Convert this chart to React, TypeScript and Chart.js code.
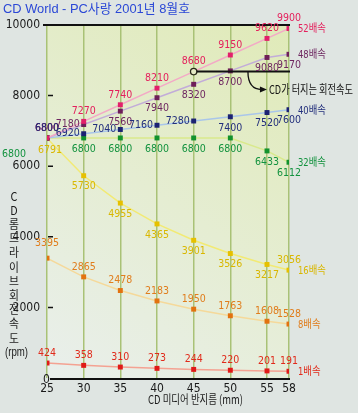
import React, { useEffect, useRef } from 'react';
import { Chart, registerables } from 'chart.js';

Chart.register(...registerables);

// ---- data ----
const radii = [25, 30, 35, 40, 45, 50, 55, 58];
const speed52 = [6800, 7270, 7740, 8210, 8680, 9150, 9620, 9900];
const speed48 = [6800, 7180, 7560, 7940, 8320, 8700, 9080, 9170];
const speed40 = [6800, 6920, 7040, 7160, 7280, 7400, 7520, 7600];
const speed32 = [6800, 6800, 6800, 6800, 6800, 6800, 6433, 6112];
const speed16 = [6791, 5730, 4955, 4365, 3901, 3526, 3217, 3056];
const speed8 = [3395, 2865, 2478, 2183, 1950, 1763, 1608, 1528];
const speed1 = [424, 358, 310, 273, 244, 220, 201, 191];
const seriesNames = ['52배속', '48배속', '40배속', '32배속', '16배속', '8배속', '1배속'];
const yTickValues = [0, 2000, 4000, 6000, 8000, 10000];
const burstRadius = 45; // radius where the "burst" marker is
const chartTitle = 'CD World - PC사랑 2001년 8월호';
const xTitle = 'CD 미디어 반지름 (mm)';
const yTitleChars = ['C', 'D', '롬', '드', '라', '이', '브', '회', '전', '속', '도'];
const yUnit = '(rpm)';
const burstText = 'CD가 터지는 회전속도';

// ---- styles ----
const NARROW = '"Liberation Sans Narrow", "DejaVu Sans Condensed", "Noto Sans CJK KR", sans-serif';
const SANS = '"Liberation Sans", "Noto Sans CJK KR", sans-serif';
const KR = '"Noto Sans CJK KR", "Liberation Sans", sans-serif';

const seriesStyle = [
  { line: '#f3a9c6', point: '#e2206a', label: '#e4205c' },
  { line: '#c2acd9', point: '#6e1f58', label: '#6e2660' },
  { line: '#a9c6ea', point: '#1c2272', label: '#232f7c' },
  { line: '#d9e98c', point: '#12922e', label: '#12923e' },
  { line: '#f2ea74', point: '#e6c000', label: '#d9b700' },
  { line: '#f5d99a', point: '#e27210', label: '#e07d1c' },
  { line: '#f4a292', point: '#e01a18', label: '#e02a1a' },
];

// label placement per point: up / down / left / upfar / farleft / downright
const placements = [
  ['up', 'up', 'up', 'up', 'up', 'up', 'up', 'up'],
  ['up', 'left', 'down', 'down', 'down', 'down', 'down', 'down'],
  ['up', 'left', 'left', 'left', 'left', 'down', 'down', 'down'],
  ['farleft', 'down', 'down', 'down', 'down', 'down', 'down', 'down'],
  ['downright', 'down', 'down', 'down', 'down', 'down', 'down', 'up'],
  ['upfar', 'up', 'up', 'up', 'up', 'up', 'up', 'up'],
  ['up', 'up', 'up', 'up', 'up', 'up', 'up', 'up'],
];

const allSeries = [speed52, speed48, speed40, speed32, speed16, speed8, speed1];

function drawScaled(ctx: CanvasRenderingContext2D, text: string, x: number, y: number, font: string, color: string, align: CanvasTextAlign, sx: number) {
  ctx.save();
  ctx.font = font;
  ctx.fillStyle = color;
  ctx.textBaseline = 'middle';
  ctx.textAlign = align;
  ctx.translate(x, y);
  ctx.scale(sx, 1);
  ctx.fillText(text, 0, 0);
  ctx.restore();
}

function drawFit(ctx: CanvasRenderingContext2D, text: string, x: number, y: number, font: string, color: string, width: number) {
  ctx.save();
  ctx.font = font;
  const w = ctx.measureText(text).width;
  ctx.restore();
  drawScaled(ctx, text, x, y, font, color, 'left', width / w);
}

const decorPlugin = {
  id: 'decor',
  beforeDraw(chart: any) {
    const { ctx, chartArea: a, width, height } = chart;
    ctx.save();
    ctx.fillStyle = '#dfe5e2';
    ctx.fillRect(0, 0, width, height);
    const g = ctx.createLinearGradient(a.right, a.top, a.left, a.bottom);
    g.addColorStop(0, '#e0eab8');
    g.addColorStop(0.5, '#e5edd2');
    g.addColorStop(1, '#e9efec');
    ctx.fillStyle = g;
    ctx.fillRect(a.left, a.top, a.right - a.left, a.bottom - a.top);
    ctx.restore();
  },
  beforeDatasetsDraw(chart: any) {
    const { ctx, chartArea: a } = chart;
    const y = chart.scales.y;
    ctx.save();
    ctx.strokeStyle = '#111';
    ctx.lineWidth = 2;
    ctx.beginPath();
    ctx.moveTo(a.left - 4, y.getPixelForValue(10000));
    ctx.lineTo(a.right + 1, y.getPixelForValue(10000));
    ctx.moveTo(a.left + 3, y.getPixelForValue(0) + 1);
    ctx.lineTo(a.right + 1, y.getPixelForValue(0) + 1);
    ctx.stroke();
    ctx.lineWidth = 1.5;
    ctx.beginPath();
    yTickValues.forEach((v) => {
      if (v === 0 || v === 10000) return;
      const py = y.getPixelForValue(v);
      ctx.moveTo(a.left + 1, py);
      ctx.lineTo(a.left + 6, py);
    });
    ctx.stroke();
    ctx.restore();
  },
  afterDatasetsDraw(chart: any) {
    const { ctx, chartArea: a } = chart;
    const xs = chart.scales.x;
    const ys = chart.scales.y;
    const valFont = `10.5px ${NARROW}`;

    // burst annotation
    const bi = radii.indexOf(burstRadius);
    const by = ys.getPixelForValue(speed52[bi]);
    const bx = xs.getPixelForValue(burstRadius);
    ctx.save();
    ctx.strokeStyle = '#111';
    ctx.lineWidth = 2;
    ctx.beginPath();
    ctx.moveTo(bx + 3, by);
    ctx.lineTo(xs.getPixelForValue(58) + 1, by);
    ctx.stroke();
    ctx.lineWidth = 1.3;
    const ax = xs.getPixelForValue(52.4);
    ctx.beginPath();
    ctx.moveTo(ax, by);
    ctx.quadraticCurveTo(ax, by + 18, ax + 14, by + 18);
    ctx.stroke();
    ctx.fillStyle = '#111';
    ctx.beginPath();
    ctx.moveTo(ax + 19, by + 18);
    ctx.lineTo(ax + 12, by + 15);
    ctx.lineTo(ax + 12, by + 21);
    ctx.closePath();
    ctx.fill();
    ctx.restore();
    drawFit(ctx, burstText, ax + 21, by + 18, `12px ${KR}`, '#111', 84);

    // value labels
    allSeries.forEach((data, si) => {
      const col = seriesStyle[si].label;
      data.forEach((v, i) => {
        const px = xs.getPixelForValue(radii[i]);
        const py = ys.getPixelForValue(v);
        const p = placements[si][i];
        let tx = px, ty = py, al: CanvasTextAlign = 'center';
        if (p === 'up') ty = py - 10;
        else if (p === 'upfar') ty = py - 15;
        else if (p === 'down') ty = py + 11;
        else if (p === 'left') { tx = px - 4; al = 'right'; }
        else if (p === 'farleft') { tx = px - 33; ty = py + 16; }
        else if (p === 'downright') { tx = px + 3; ty = py + 12; }
        drawScaled(ctx, String(v), tx, ty, valFont, col, al, 1);
      });
      // series name at the end
      const last = data.length - 1;
      drawScaled(ctx, seriesNames[si], xs.getPixelForValue(radii[last]) + 9, ys.getPixelForValue(data[last]) + 1, `11px ${NARROW}`, col, 'left', 0.85);
    });

    // zero label
    drawScaled(ctx, '0', a.left - 4, ys.getPixelForValue(0) + 2, `12px ${NARROW}`, '#1a1a1a', 'left', 1);

    // titles
    drawFit(ctx, chartTitle, 3, 9, `13px ${SANS}`, '#2b48d6', 187);
    drawFit(ctx, xTitle, 148, 399, `12px ${KR}`, '#1a1a1a', 95);
    yTitleChars.forEach((c, i) => {
      drawScaled(ctx, c, 14, 196 + i * 14.2, `12px ${KR}`, '#1a1a1a', 'center', 0.9);
    });
    drawFit(ctx, yUnit, 5, 353, `12px ${SANS}`, '#1a1a1a', 23);
  },
};

export default function App() {
  const ref = useRef<HTMLCanvasElement>(null);
  useEffect(() => {
    if (!ref.current) return;
    const datasets = allSeries.map((data, si) => ({
      label: seriesNames[si],
      data: data.map((v, i) => ({ x: radii[i], y: v })),
      borderColor: seriesStyle[si].line,
      borderWidth: 1.5,
      backgroundColor: seriesStyle[si].point,
      pointBackgroundColor: si === 0 ? data.map((_, i) => (radii[i] === burstRadius ? '#e4eac4' : seriesStyle[si].point)) : seriesStyle[si].point,
      pointBorderColor: si === 0 ? data.map((_, i) => (radii[i] === burstRadius ? '#2a2a1a' : seriesStyle[si].point)) : seriesStyle[si].point,
      pointBorderWidth: si === 0 ? data.map((_, i) => (radii[i] === burstRadius ? 1.3 : 0)) : 0,
      pointStyle: si === 0 ? data.map((_, i) => (radii[i] === burstRadius ? 'circle' : 'rect')) : 'rect',
      pointRadius: si === 0 ? data.map((_, i) => (radii[i] === burstRadius ? 3.2 : 3.5)) : 3.5,
      tension: 0,
      order: si,
    }));
    const chart = new Chart(ref.current, {
      type: 'line',
      data: { datasets },
      options: {
        animation: false,
        responsive: false,
        events: [],
        layout: { padding: { top: 25, right: 69, left: 0, bottom: 0 } },
        plugins: { legend: { display: false }, tooltip: { enabled: false } },
        scales: {
          x: {
            type: 'linear',
            min: 25,
            max: 58,
            afterBuildTicks: (s: any) => { s.ticks = radii.map((v) => ({ value: v })); },
            afterFit: (s: any) => { s.height = 35; },
            grid: { color: '#a9c276', lineWidth: 1.5, drawTicks: false },
            border: { display: false },
            ticks: { font: { family: NARROW, size: 12 }, color: '#1a1a1a', padding: 4, maxRotation: 0, autoSkip: false, callback: (v: any) => String(v) },
          },
          y: {
            min: 0,
            max: 10000,
            afterBuildTicks: (s: any) => { s.ticks = yTickValues.map((v) => ({ value: v })); },
            afterFit: (s: any) => { s.width = 47; },
            grid: { display: false, drawTicks: false },
            border: { display: false },
            ticks: { font: { family: NARROW, size: 12 }, color: '#1a1a1a', padding: 7, callback: (v: any) => (v === 0 ? '' : String(v)) },
          },
        },
      },
      plugins: [decorPlugin],
    });
    return () => chart.destroy();
  }, []);
  return (
    <div style={{ position: 'fixed', left: 0, top: 0, width: 358, height: 413 }}>
      <canvas ref={ref} width={358} height={413} />
    </div>
  );
}
